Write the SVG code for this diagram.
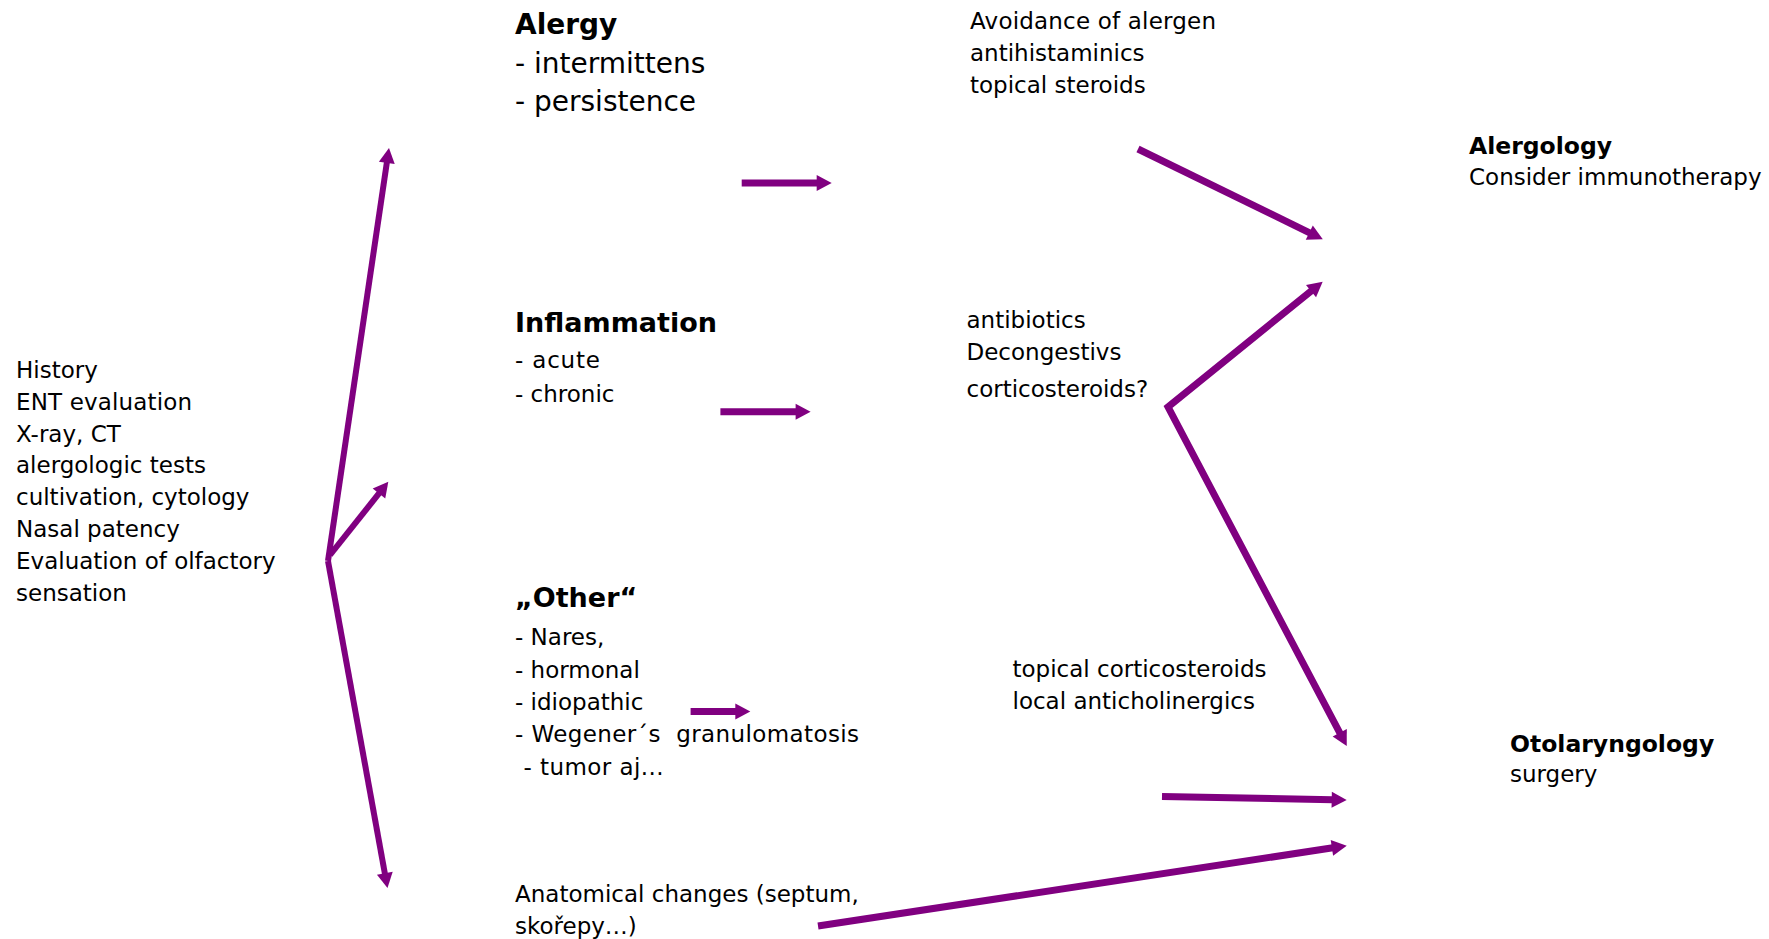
<svg xmlns="http://www.w3.org/2000/svg" width="1769" height="939" viewBox="0 0 1769 939">
<style>
  text { font-family: "DejaVu Sans", "Liberation Sans", sans-serif; fill: #000; }
  .t { font-size: 23px; }
  .m { font-size: 28px; }
  .h { font-size: 28px; font-weight: bold; }
  .h2 { font-size: 27px; font-weight: bold; }
  .b { font-size: 23.5px; font-weight: bold; }
  .pre { white-space: pre; }
  .c { stroke: #800080; fill: none; stroke-linecap: butt; stroke-linejoin: miter; marker-end: url(#ah); }
  .w6 { stroke-width: 6; }
  .w7 { stroke-width: 7; }
</style>
<defs>
  <marker id="ah" markerUnits="userSpaceOnUse" viewBox="0 0 15 16" markerWidth="15" markerHeight="16" refX="1" refY="8" orient="auto-start-reverse" overflow="visible">
    <path d="M0,0 L15,8 L0,16 Z" fill="#800080"/>
  </marker>
</defs>
<rect width="1769" height="939" fill="#fff"/>

<g id="connectors">
  <line class="c w6" x1="328" y1="561" x2="386.95" y2="161.85"/>
  <line class="c w6" x1="330" y1="555" x2="379.6" y2="492.7"/>
  <line class="c w6" x1="328" y1="561" x2="385" y2="874.2"/>
  <line class="c w7" x1="741.7" y1="183" x2="817.7" y2="183"/>
  <line class="c w7" x1="720.4" y1="411.7" x2="796.6" y2="411.7"/>
  <line class="c w7" x1="690.6" y1="711.5" x2="736.3" y2="711.5"/>
  <line class="c w7" x1="1138" y1="149" x2="1310.2" y2="233.1"/>
  <path class="c w7" style="marker-start:url(#ah)" d="M1311.8,290.5 L1168,407 L1340.2,733.6"/>
  <line class="c w7" x1="1162" y1="796.5" x2="1332.7" y2="799.7"/>
  <line class="c w7" x1="818" y1="926" x2="1332.9" y2="847.8"/>
</g>

<g id="diagnostics">
  <text class="t" x="16" y="378">History</text>
  <text class="t" x="16" y="410" textLength="176">ENT evaluation</text>
  <text class="t" x="16" y="442">X-ray, CT</text>
  <text class="t" x="16" y="473">alergologic tests</text>
  <text class="t" x="16" y="505">cultivation, cytology</text>
  <text class="t" x="16" y="537">Nasal patency</text>
  <text class="t" x="16" y="569">Evaluation of olfactory</text>
  <text class="t" x="16" y="601">sensation</text>
</g>

<g id="alergy">
  <text class="h" x="515" y="34">Alergy</text>
  <text class="m" x="515" y="73">- intermittens</text>
  <text class="m" x="515" y="111">- persistence</text>
</g>

<g id="inflammation">
  <text class="h2" x="515" y="332">Inflammation</text>
  <text class="t" x="515" y="368" textLength="85">- acute</text>
  <text class="t" x="515" y="402">- chronic</text>
</g>

<g id="other">
  <text class="h2" x="515" y="607">„Other“</text>
  <text class="t" x="515" y="645">- Nares,</text>
  <text class="t" x="515" y="678">- hormonal</text>
  <text class="t" x="515" y="710">- idiopathic</text>
  <text class="t pre" x="515" y="742" textLength="344">- Wegener´s  granulomatosis</text>
  <text class="t" x="523.5" y="775" textLength="140">- tumor aj...</text>
</g>

<g id="anatomical">
  <text class="t" x="515" y="902">Anatomical changes (septum,</text>
  <text class="t" x="515" y="934">skořepy…)</text>
</g>

<g id="alergy-treatment">
  <text class="t" x="970" y="29" textLength="246">Avoidance of alergen</text>
  <text class="t" x="970" y="61">antihistaminics</text>
  <text class="t" x="970" y="93">topical steroids</text>
</g>

<g id="inflammation-treatment">
  <text class="t" x="966.5" y="328">antibiotics</text>
  <text class="t" x="966.5" y="360">Decongestivs</text>
  <text class="t" x="966.5" y="397">corticosteroids?</text>
</g>

<g id="other-treatment">
  <text class="t" x="1012.5" y="677">topical corticosteroids</text>
  <text class="t" x="1012.5" y="709">local anticholinergics</text>
</g>

<g id="alergology">
  <text class="b" x="1469" y="154">Alergology</text>
  <text class="t" x="1469" y="185">Consider immunotherapy</text>
</g>

<g id="otolaryngology">
  <text class="b" x="1510" y="752">Otolaryngology</text>
  <text class="t" x="1510" y="782">surgery</text>
</g>
</svg>
